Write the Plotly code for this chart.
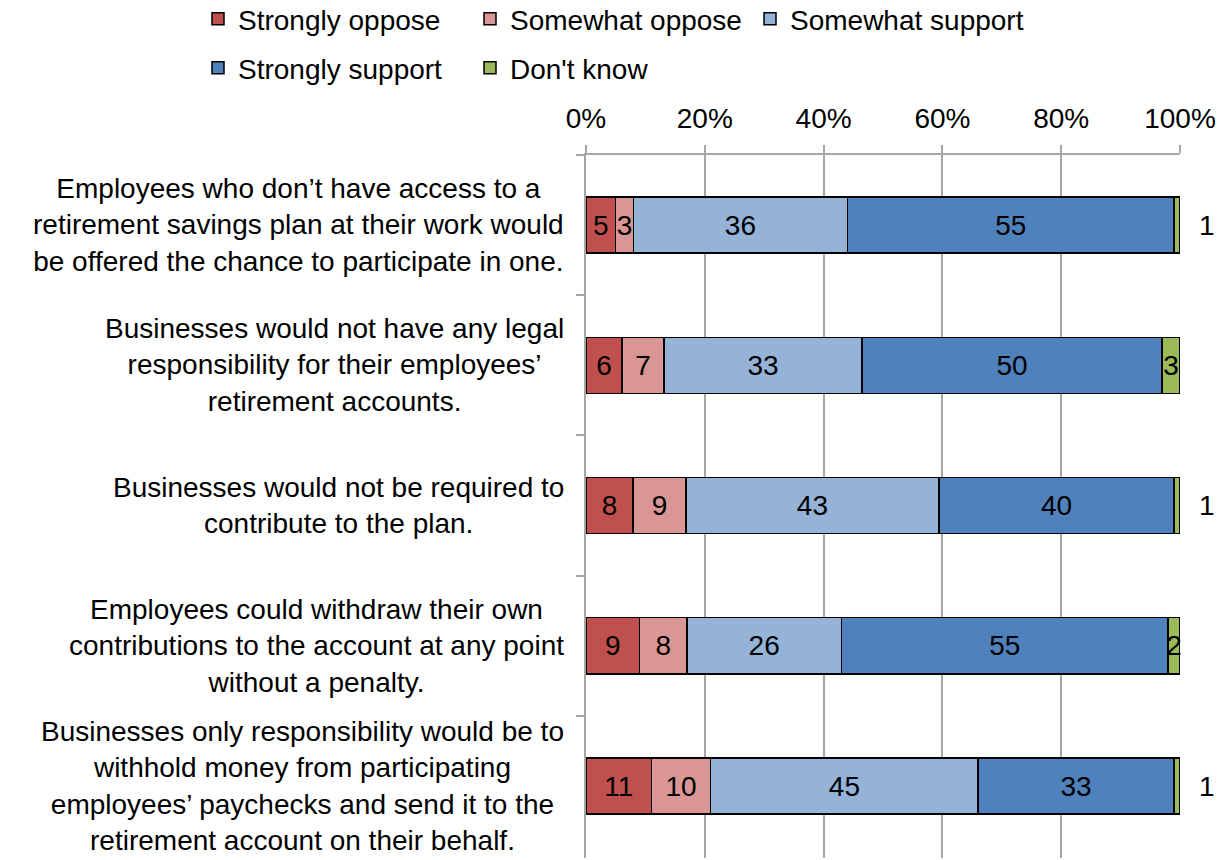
import plotly.graph_objects as go

categories = [
    "Employees who don’t have access to a<br>retirement savings plan at their work would<br>be offered the chance to participate in one.",
    "Businesses would not have any legal<br>responsibility for their employees’<br>retirement accounts.",
    "Businesses would not be required to<br>contribute to the plan.",
    "Employees could withdraw their own<br>contributions to the account at any point<br>without a penalty.",
    "Businesses only responsibility would be to<br>withhold money from participating<br>employees’ paychecks and send it to the<br>retirement account on their behalf.",
]
cat_ids = ["c1", "c2", "c3", "c4", "c5"]

series_names = ["Strongly oppose", "Somewhat oppose", "Somewhat support", "Strongly support", "Don't know"]
strongly_oppose = [5, 6, 8, 9, 11]
somewhat_oppose = [3, 7, 9, 8, 10]
somewhat_support = [36, 33, 43, 26, 45]
strongly_support = [55, 50, 40, 55, 33]
dont_know = [1, 3, 1, 2, 1]
series_values = [strongly_oppose, somewhat_oppose, somewhat_support, strongly_support, dont_know]
colors = ["#C0504D", "#D99694", "#95B3D7", "#4F81BD", "#9BBB59"]

x_ticks = [0, 20, 40, 60, 80, 100]
x_tick_text = ["0%", "20%", "40%", "60%", "80%", "100%"]

FONT = "Liberation Sans, Arial, sans-serif"
FS = 28

legend_ids = ["legend", "legend2", "legend3", "legend4", "legend5"]
legend_pos = [(-0.6532, 1.1935), (-0.1953, 1.1935), (0.2761, 1.1935), (-0.6532, 1.1238), (-0.1953, 1.1238)]

fig = go.Figure()
for i, (name, vals, col) in enumerate(zip(series_names, series_values, colors)):
    if i == 4:
        texts = [str(v) if v > 1 else "" for v in vals]
    else:
        texts = [str(v) for v in vals]
    fig.add_trace(go.Bar(
        name=name, y=cat_ids, x=vals, orientation="h",
        marker=dict(color=col, line=dict(color="black", width=1.5)),
        text=texts, textposition="inside", insidetextanchor="middle",
        textangle=0, constraintext="none",
        textfont=dict(family=FONT, size=FS, color="black"),
        legend=legend_ids[i], cliponaxis=False, showlegend=True,
    ))

layout_legends = {}
for lid, (lx, ly) in zip(legend_ids, legend_pos):
    layout_legends[lid] = dict(
        x=lx, y=ly, xanchor="left", yanchor="middle", orientation="h",
        font=dict(family=FONT, size=FS, color="black"),
        bgcolor="rgba(0,0,0,0)", itemwidth=30, visible=True,
    )

# outside labels for the small "Don't know" values
annotations = []
for cid, v in zip(cat_ids, dont_know):
    if v <= 1:
        annotations.append(dict(
            x=100, y=cid, xref="x", yref="y", text=str(v), showarrow=False,
            xanchor="left", xshift=17, font=dict(family=FONT, size=FS, color="black"),
        ))
# category labels (centered multi-line text, right-aligned block)
for cid, lab in zip(cat_ids, categories):
    annotations.append(dict(
        x=0, y=cid, xref="paper", yref="y", text=lab, showarrow=False,
        xanchor="right", xshift=-20, align="center",
        font=dict(family=FONT, size=FS, color="black"),
    ))

fig.update_layout(
    width=1228, height=860,
    margin=dict(l=586, r=48, t=155, b=2, autoexpand=False),
    showlegend=True,
    barmode="stack", barnorm="percent", bargap=0.6,
    plot_bgcolor="white", paper_bgcolor="white",
    font=dict(family=FONT, size=FS, color="black"),
    annotations=annotations,
    xaxis=dict(
        side="top", range=[0, 100], tickvals=x_ticks, ticktext=x_tick_text,
        showgrid=True, gridcolor="#A6A6A6", gridwidth=1.5,
        ticks="outside", ticklen=8, tickcolor="#A6A6A6", tickwidth=1.5,
        showline=True, linecolor="#A6A6A6", linewidth=1.5,
        zeroline=False, ticklabelstandoff=6,
        tickfont=dict(family=FONT, size=FS, color="black"),
    ),
    yaxis=dict(
        autorange="reversed", showticklabels=False, showgrid=False,
        ticks="outside", ticklen=8, tickcolor="#A6A6A6", tickwidth=1.5,
        tickson="boundaries",
        showline=True, linecolor="#A6A6A6", linewidth=1.5, zeroline=False,
    ),
    **layout_legends,
)

fig.write_html(
    "out.html",
    config={"displayModeBar": False},
    post_script="document.body.style.margin='0';document.body.style.padding='0';document.body.style.overflow='hidden';",
)
